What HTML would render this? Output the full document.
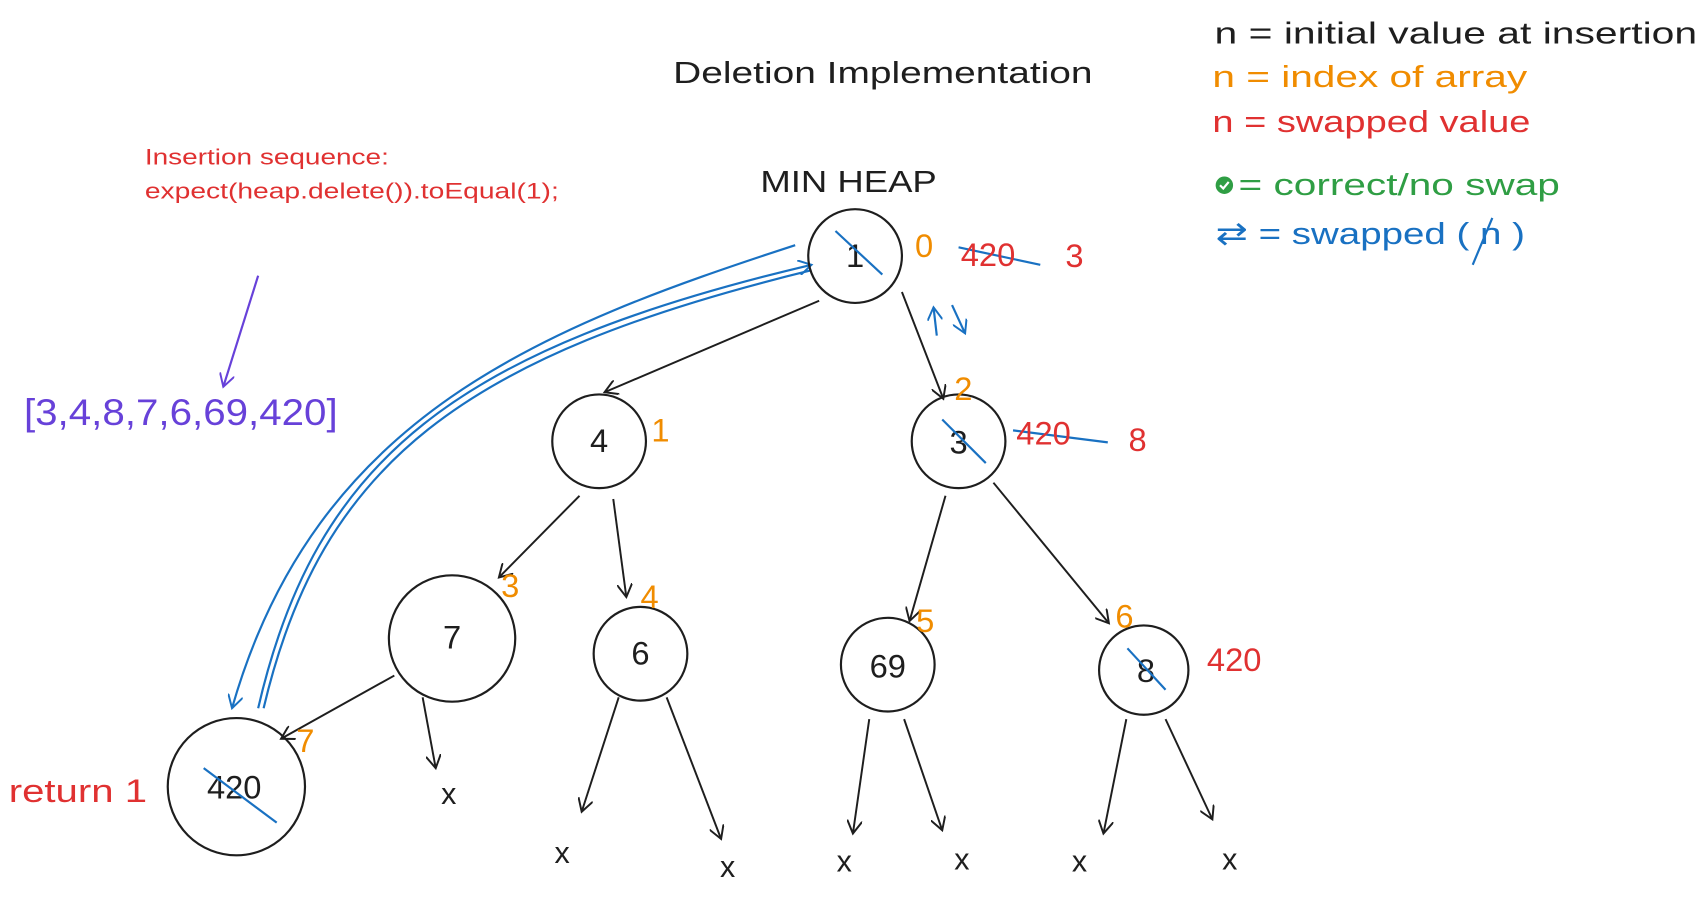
<!DOCTYPE html>
<html><head><meta charset="utf-8"><style>
html,body{margin:0;padding:0;background:#fff;}
svg{display:block;}
text{font-family:"Liberation Sans",sans-serif;}
</style></head><body>
<svg width="1708" height="900" viewBox="0 0 1568 826" preserveAspectRatio="none" xmlns="http://www.w3.org/2000/svg">
<defs>
<marker id="ah" markerWidth="14" markerHeight="14" refX="12" refY="7" orient="auto" markerUnits="userSpaceOnUse"><path d="M0,0 L12,7 L0,14" fill="none" stroke="#1e1e1e" stroke-width="1.8"/></marker>
<marker id="ahb" markerWidth="14" markerHeight="14" refX="12" refY="7" orient="auto" markerUnits="userSpaceOnUse"><path d="M0,0 L12,7 L0,14" fill="none" stroke="#1971c2" stroke-width="1.8"/></marker>
<marker id="ahp" markerWidth="14" markerHeight="14" refX="12" refY="7" orient="auto" markerUnits="userSpaceOnUse"><path d="M0,0 L12,7 L0,14" fill="none" stroke="#6741d9" stroke-width="1.8"/></marker>
</defs>
<rect width="1568" height="826" fill="#fff"/>

<text x="618" y="76" font-size="28" fill="#1e1e1e" textLength="385" lengthAdjust="spacingAndGlyphs">Deletion Implementation</text>
<text x="698" y="176" font-size="28" fill="#1e1e1e" textLength="162" lengthAdjust="spacingAndGlyphs">MIN HEAP</text>

<g>
<text x="1115" y="40" font-size="28" fill="#1e1e1e" textLength="443" lengthAdjust="spacingAndGlyphs">n = initial value at insertion</text>
<text x="1113" y="80" font-size="28" fill="#f08c00" textLength="289" lengthAdjust="spacingAndGlyphs">n = index of array</text>
<text x="1113" y="121" font-size="28" fill="#e03131" textLength="292" lengthAdjust="spacingAndGlyphs">n  = swapped value</text>
<circle cx="1124" cy="170" r="8" fill="#2f9e44"/>
<path d="M1120,170 l3,3 l5,-6" stroke="#fff" stroke-width="2" fill="none"/>
<text x="1137" y="179" font-size="28" fill="#2f9e44" textLength="295" lengthAdjust="spacingAndGlyphs">= correct/no swap</text>
<text x="1116" y="224" font-size="28" fill="#1971c2" textLength="284" lengthAdjust="spacingAndGlyphs">⇄ = swapped ( n )</text>
<line x1="1352" y1="243" x2="1370" y2="200" stroke="#1971c2" stroke-width="2"/>
</g>

<text x="133" y="151" font-size="20" fill="#e03131" textLength="224" lengthAdjust="spacingAndGlyphs">Insertion sequence:</text>
<text x="133" y="182" font-size="20" fill="#e03131" textLength="380" lengthAdjust="spacingAndGlyphs">expect(heap.delete()).toEqual(1);</text>
<line x1="237" y1="253" x2="205" y2="355" stroke="#6741d9" stroke-width="2" marker-end="url(#ahp)"/>
<text x="22" y="390" font-size="34" fill="#6741d9" textLength="288" lengthAdjust="spacingAndGlyphs">[3,4,8,7,6,69,420]</text>

<g stroke="#1e1e1e" stroke-width="1.8" fill="none">
<line x1="752" y1="276" x2="555" y2="360" marker-end="url(#ah)"/>
<line x1="828" y1="268" x2="866" y2="366" marker-end="url(#ah)"/>
<line x1="532" y1="455" x2="458" y2="530" marker-end="url(#ah)"/>
<line x1="563" y1="458" x2="575" y2="548" marker-end="url(#ah)"/>
<line x1="868" y1="455" x2="835" y2="570" marker-end="url(#ah)"/>
<line x1="912" y1="443" x2="1018" y2="572" marker-end="url(#ah)"/>
<line x1="362" y1="620" x2="258" y2="678" marker-end="url(#ah)"/>
<line x1="388" y1="640" x2="400" y2="705" marker-end="url(#ah)"/>
<line x1="568" y1="640" x2="534" y2="745" marker-end="url(#ah)"/>
<line x1="612" y1="640" x2="662" y2="770" marker-end="url(#ah)"/>
<line x1="798" y1="660" x2="783" y2="765" marker-end="url(#ah)"/>
<line x1="830" y1="660" x2="865" y2="762" marker-end="url(#ah)"/>
<line x1="1034" y1="660" x2="1013" y2="765" marker-end="url(#ah)"/>
<line x1="1070" y1="660" x2="1113" y2="752" marker-end="url(#ah)"/>
</g>

<g stroke="#1971c2" stroke-width="2" fill="none">
<path d="M730,225 C500,300 290,380 213,650" marker-end="url(#ahb)"/>
<path d="M237,650 C290,420 420,320 745,243" marker-end="url(#ahb)"/>
<path d="M242,650 C295,425 425,326 745,248"/>
<line x1="860" y1="308" x2="857" y2="282" marker-end="url(#ahb)"/>
<line x1="874" y1="280" x2="886" y2="306" marker-end="url(#ahb)"/>
</g>

<g stroke="#1e1e1e" stroke-width="2" fill="none">
<circle cx="785" cy="235" r="43"/>
<circle cx="550" cy="405" r="43"/>
<circle cx="880" cy="405" r="43"/>
<circle cx="415" cy="586" r="58"/>
<circle cx="588" cy="600" r="43"/>
<circle cx="815" cy="610" r="43"/>
<circle cx="1050" cy="615" r="41"/>
<circle cx="217" cy="722" r="63"/>
</g>

<g font-size="30" fill="#1e1e1e" text-anchor="middle">
<text x="785" y="245">1</text>
<text x="550" y="415">4</text>
<text x="880" y="416">3</text>
<text x="415" y="595">7</text>
<text x="588" y="610">6</text>
<text x="815" y="622">69</text>
<text x="1052" y="626">8</text>
<text x="215" y="733">420</text>
</g>

<g stroke="#1971c2" stroke-width="2">
<line x1="767" y1="212" x2="810" y2="252"/>
<line x1="865" y1="385" x2="905" y2="425"/>
<line x1="1035" y1="595" x2="1070" y2="633"/>
<line x1="187" y1="705" x2="254" y2="755"/>
<line x1="880" y1="227" x2="955" y2="243"/>
<line x1="930" y1="395" x2="1017" y2="406"/>
</g>

<g font-size="30" fill="#f08c00">
<text x="840" y="236">0</text>
<text x="598" y="405">1</text>
<text x="876" y="367">2</text>
<text x="460" y="548">3</text>
<text x="588" y="558">4</text>
<text x="841" y="580">5</text>
<text x="1024" y="576">6</text>
<text x="272" y="690">7</text>
</g>

<g font-size="30" fill="#e03131">
<text x="882" y="244">420</text>
<text x="978" y="245">3</text>
<text x="933" y="408">420</text>
<text x="1036" y="414">8</text>
<text x="1108" y="616">420</text>
<text x="8" y="736" textLength="127" lengthAdjust="spacingAndGlyphs">return 1</text>
</g>

<g font-size="28" fill="#1e1e1e" text-anchor="middle">
<text x="412" y="738">x</text>
<text x="516" y="792">x</text>
<text x="668" y="805">x</text>
<text x="775" y="800">x</text>
<text x="883" y="798">x</text>
<text x="991" y="800">x</text>
<text x="1129" y="798">x</text>
</g>
</svg>
</body></html>
